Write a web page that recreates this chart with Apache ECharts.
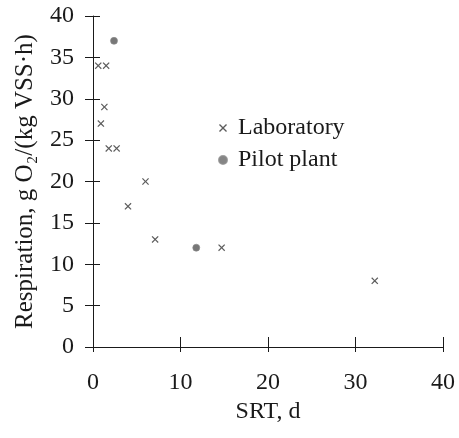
<!DOCTYPE html>
<html><head><meta charset="utf-8">
<script src="https://cdn.jsdelivr.net/npm/echarts@6/dist/echarts.min.js"></script>
<style>html,body{margin:0;padding:0;background:#fff}#c{width:459px;height:438px}</style>
</head><body><div id="c"></div>
<script>
const labSRT = [0.6, 1.5, 1.3, 0.9, 1.8, 2.7, 6.0, 4.0, 7.1, 14.7, 32.2];
const labResp = [34, 34, 29, 27, 24, 24, 20, 17, 13, 12, 8];
const pilotSRT = [2.4, 11.8];
const pilotResp = [37, 12];
const xTicks = [0, 10, 20, 30, 40];
const yTicks = [0, 5, 10, 15, 20, 25, 30, 35, 40];
const xTitle = 'SRT, d';
const yTitle = 'Respiration, g O₂/(kg VSS·h)';
const seriesNames = ['Laboratory', 'Pilot plant'];

const FONT = '"Liberation Serif", "Times New Roman", serif';
const INK = '#1a1a1a';
const XPATH = 'path://M0,1.2L1.2,0L5,3.8L8.8,0L10,1.2L6.2,5L10,8.8L8.8,10L5,6.2L1.2,10L0,8.8L3.8,5Z';

const chart = echarts.init(document.getElementById('c'), null, {renderer: 'canvas'});
const baseX = {type: 'value', min: xTicks[0], max: xTicks[xTicks.length-1], interval: xTicks[1]-xTicks[0], splitLine: {show: false}};
const baseY = {type: 'value', min: yTicks[0], max: yTicks[yTicks.length-1], interval: yTicks[1]-yTicks[0], splitLine: {show: false}};
chart.setOption({
  animation: false,
  backgroundColor: '#fff',
  grid: {left: 93, right: 16, top: 16, bottom: 91, containLabel: false},
  legend: {
    orient: 'vertical', left: 213, top: 111, itemWidth: 8, itemHeight: 8, itemGap: 8,
    textStyle: {fontFamily: FONT, fontSize: 24, color: INK, padding: [0, 0, 0, 6], lineHeight: 24},
    data: [
      {name: seriesNames[0], icon: XPATH, itemStyle: {color: '#333'}},
      {name: seriesNames[1], icon: 'circle', itemStyle: {color: '#666'}}
    ]
  },
  xAxis: [
    Object.assign({}, baseX, {
      position: 'bottom',
      name: xTitle, nameLocation: 'middle', nameGap: 52,
      nameTextStyle: {fontFamily: FONT, fontSize: 24, color: INK},
      axisLine: {show: true, lineStyle: {color: INK, width: 1}},
      axisTick: {show: true, inside: false, length: 5, lineStyle: {color: INK}},
      axisLabel: {fontFamily: FONT, fontSize: 24, color: INK, margin: 24}
    }),
    Object.assign({}, baseX, {
      position: 'bottom',
      axisLine: {show: false},
      axisTick: {show: true, inside: true, length: 10, lineStyle: {color: INK}},
      axisLabel: {show: false}
    })
  ],
  yAxis: [
    Object.assign({}, baseY, {
      position: 'left',
      name: yTitle, nameLocation: 'middle', nameGap: 55, nameRotate: 90,
      nameTextStyle: {fontFamily: FONT, fontSize: 25, color: INK},
      axisLine: {show: true, lineStyle: {color: INK, width: 1}},
      axisTick: {show: true, inside: false, length: 8, lineStyle: {color: INK}},
      axisLabel: {fontFamily: FONT, fontSize: 24, color: INK, margin: 19}
    }),
    Object.assign({}, baseY, {
      position: 'left',
      axisLine: {show: false},
      axisTick: {show: true, inside: true, length: 7, lineStyle: {color: INK}},
      axisLabel: {show: false}
    })
  ],
  series: [
    {
      name: seriesNames[0], type: 'scatter', xAxisIndex: 0, yAxisIndex: 0,
      symbol: XPATH, symbolSize: 7,
      itemStyle: {color: '#333'},
      data: labSRT.map((x, i) => [x, labResp[i]])
    },
    {
      name: seriesNames[1], type: 'scatter', xAxisIndex: 0, yAxisIndex: 0,
      symbol: 'circle', symbolSize: 7,
      itemStyle: {color: '#555', borderColor: '#888', borderWidth: 0.8},
      data: pilotSRT.map((x, i) => [x, pilotResp[i]])
    }
  ]
});
</script>
</body></html>
